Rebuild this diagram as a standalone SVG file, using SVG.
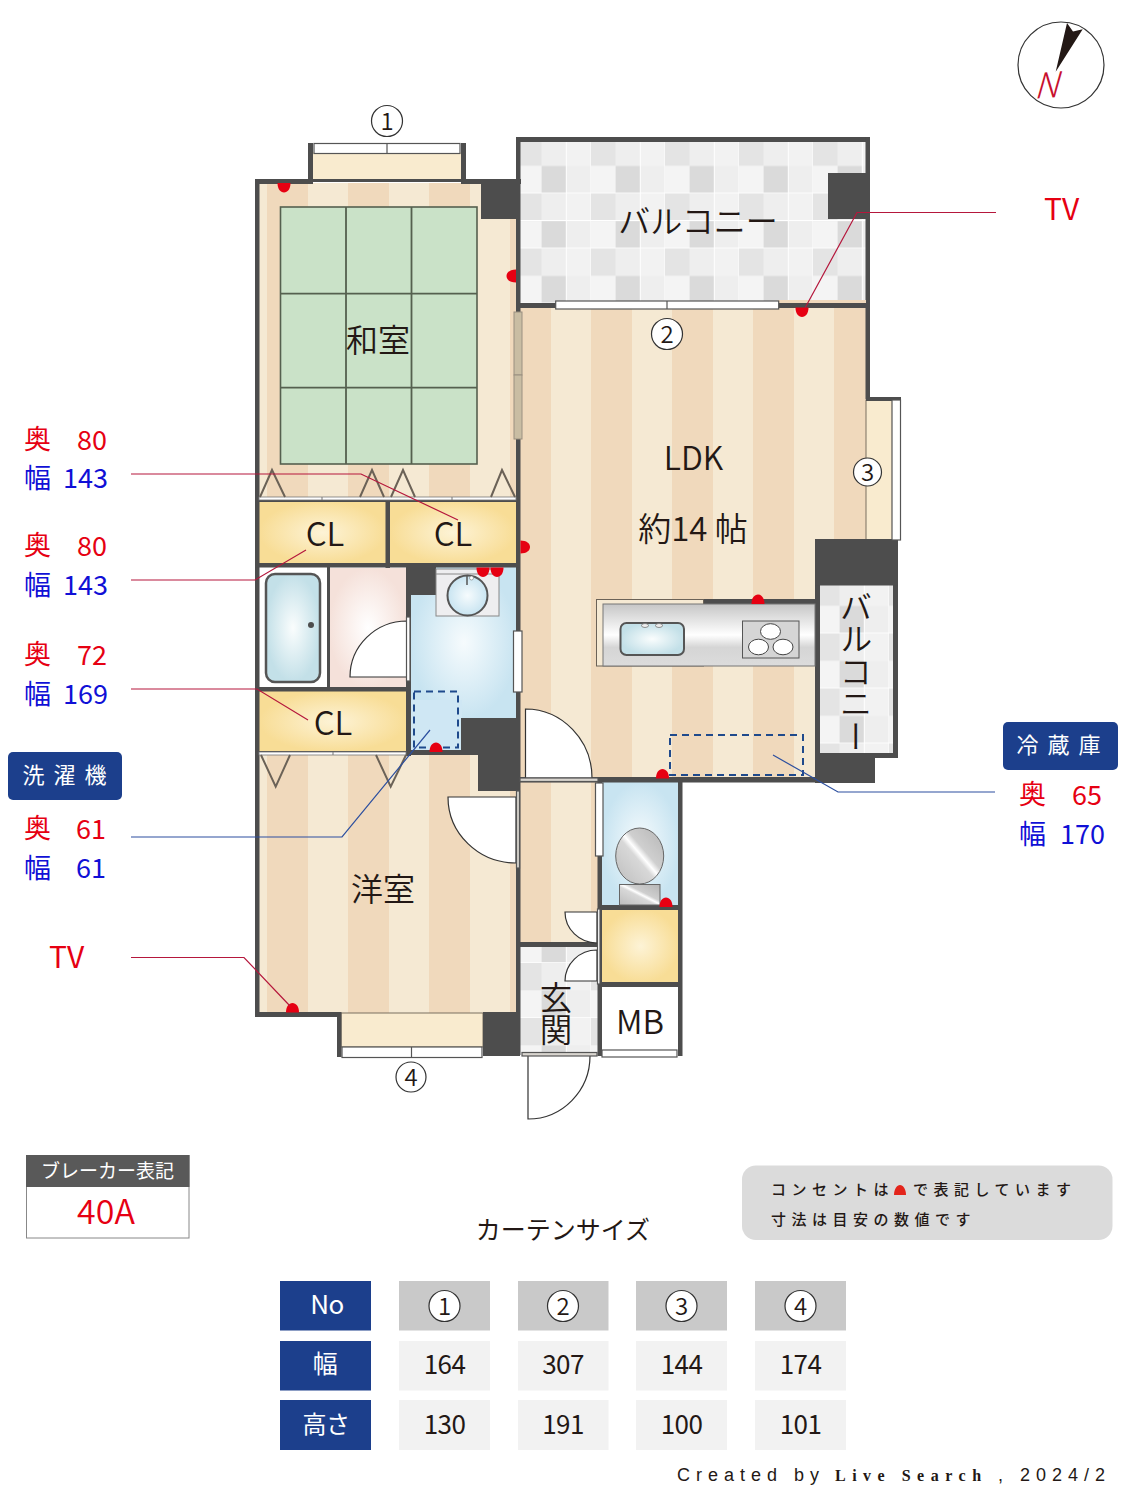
<svg xmlns="http://www.w3.org/2000/svg" xmlns:xlink="http://www.w3.org/1999/xlink" width="1125" height="1500" viewBox="0 0 1125 1500">
<style>
text{font-family:"Noto Sans CJK JP","Noto Sans",sans-serif;fill:#231815}
.l{font-weight:350}
.m{text-anchor:middle}
.w{fill:#4d4d4d}
.r{fill:#e60012}
.b{fill:#1010d6}
.lab{font-size:27px;font-weight:400}
.ww{fill:#fff;stroke:#555;stroke-width:1.2}
.th{fill:#d9d5cf;stroke:#555;stroke-width:1.2}
.tri{fill:none;stroke:#6b6257;stroke-width:2}
.door{fill:#fff;stroke:#333;stroke-width:1.2}
.rl{fill:none;stroke:#b5173c;stroke-width:1.2}
.bl{fill:none;stroke:#2c4f9f;stroke-width:1.2}
.dash{fill:none;stroke:#1f4a8c;stroke-width:2;stroke-dasharray:7 5}
.dot{fill:#e60012}
.circ{fill:#fff;stroke:#333;stroke-width:1.2}
.cn{font-size:24px;text-anchor:middle;font-weight:350}
.navy{fill:#1c3f8c}
.cell{fill:#f2f2f2}
.hd{fill:#c9c9c9}
.tt{font-size:26px;text-anchor:middle;font-weight:400;letter-spacing:-.6px}
.wt{fill:#fff}
.tat{fill:#cae2c8;stroke:#55604f;stroke-width:1.6}
.note{font-size:15px;letter-spacing:5.5px;font-weight:500}
.cr{font-family:"Liberation Sans",sans-serif;font-size:18px;letter-spacing:6px}
</style>
<defs>
<pattern id="fl" width="81" height="100" patternUnits="userSpaceOnUse" x="267" y="0">
<rect width="81" height="100" fill="#f5e9d3"/><rect width="41" height="100" fill="#f0d9bc"/>
</pattern>
<pattern id="tile" width="74" height="55" patternUnits="userSpaceOnUse" x="517" y="138.5">
<rect width="74" height="55" fill="#f0f0f0"/>
<rect width="24.7" height="27.5" fill="#e4e4e4"/><rect x="24.7" width="24.6" height="27.5" fill="#eeeeee"/><rect x="49.3" width="24.7" height="27.5" fill="#f2f2f2"/>
<rect y="27.5" width="24.7" height="27.500" fill="#f4f4f4"/><rect x="24.7" y="27.5" width="24.6" height="27.500" fill="#dadada"/><rect x="49.3" y="27.5" width="24.7" height="27.500" fill="#eeeeee"/>
<rect x="48.8" width="1" height="55" fill="#fff"/><rect x="73.5" width="1" height="55" fill="#fff"/>
<rect y="54.2" width="74" height="1" fill="#fff"/>
</pattern>
<pattern id="tile2" href="#tile" xlink:href="#tile" x="815" y="578.5"/>
<pattern id="tile3" href="#tile" xlink:href="#tile" x="517" y="908"/>
<radialGradient id="yel"><stop offset="0" stop-color="#fdf3d6"/><stop offset="1" stop-color="#f8dd96"/></radialGradient>
<radialGradient id="blu"><stop offset="0" stop-color="#f6fbfd"/><stop offset="1" stop-color="#c8e4f1"/></radialGradient>
<radialGradient id="tub"><stop offset="0" stop-color="#fafdfd"/><stop offset="1" stop-color="#c3e0e8"/></radialGradient>
<radialGradient id="pnk"><stop offset="0" stop-color="#fff"/><stop offset="1" stop-color="#f5e1da"/></radialGradient>
<linearGradient id="steel" x1="0" y1="0" x2="0" y2="1"><stop offset="0" stop-color="#c6c6c6"/><stop offset=".5" stop-color="#fff"/><stop offset=".7" stop-color="#d5d5d5"/><stop offset="1" stop-color="#dcdcdc"/></linearGradient>
<linearGradient id="mtl" x1="0" y1="1" x2="1" y2="0"><stop offset="0" stop-color="#bdbdbd"/><stop offset=".45" stop-color="#d8d8d8"/><stop offset=".52" stop-color="#fff"/><stop offset=".6" stop-color="#cfcfcf"/><stop offset="1" stop-color="#b5b5b5"/></linearGradient>
<path id="d" d="M-6.5 0C-6.5-6-3.6-9.5 0-9.5S6.5-6 6.5 0Z"/>
</defs>

<g id="floors">
<rect x="259" y="183" width="258" height="315" fill="url(#fl)"/>
<rect x="259" y="755" width="258" height="258" fill="url(#fl)"/>
<rect x="520" y="307" width="346" height="233" fill="url(#fl)"/>
<rect x="520" y="539" width="296" height="240" fill="url(#fl)"/>
<rect x="520" y="782" width="78" height="161" fill="url(#fl)"/>
<rect x="313" y="152" width="148" height="29" fill="#f9ebcf"/>
<rect x="341" y="1013" width="142" height="34" fill="#f9ebcf" stroke="#7a7060"/>
<rect x="866" y="400" width="27" height="140" fill="#f9ebcf" stroke="#7a7060"/>
<rect x="520" y="141" width="346" height="162" fill="url(#tile)"/>
<rect x="520" y="220" width="346" height="1" fill="#fff"/>
<rect x="819" y="585" width="75" height="169" fill="url(#tile2)"/>
<rect x="520" y="946" width="78" height="107" fill="url(#tile3)"/>
<rect x="259" y="501" width="127" height="63" fill="url(#yel)"/>
<rect x="390" y="501" width="126" height="63" fill="url(#yel)"/>
<rect x="259" y="691" width="148" height="61" fill="url(#yel)"/>
<rect x="602" y="909" width="77" height="74" fill="url(#yel)"/>
<rect x="259" y="566" width="68" height="122" fill="#fff"/>
<rect x="329" y="568" width="78" height="120" fill="url(#pnk)"/>
<rect x="411" y="566" width="106" height="153" fill="url(#blu)"/>
<rect x="411" y="700" width="51" height="51" fill="#cfe7f4"/>
<rect x="602" y="782" width="77" height="124" fill="url(#blu)"/>
<rect x="602" y="986" width="77" height="64" fill="#fff"/>
</g>

<g id="walls" class="w">
<rect x="255" y="179" width="4.5" height="838"/>
<rect x="255" y="179" width="58" height="5"/>
<rect x="461" y="179" width="60" height="5"/>
<rect x="308" y="143" width="5" height="41"/>
<rect x="461" y="143" width="5" height="41"/>
<rect x="313" y="179" width="148" height="3"/>
<rect x="481" y="179" width="39" height="40"/>
<rect x="516" y="137" width="4.5" height="918"/>
<rect x="516" y="137" width="354" height="5"/>
<rect x="865.5" y="137" width="4.5" height="262"/>
<rect x="828" y="173" width="42" height="46"/>
<rect x="520" y="303" width="350" height="5"/>
<rect x="778" y="300" width="88" height="3" fill="#f0d9bc"/>
<rect x="255" y="498" width="265" height="4"/>
<rect x="385.5" y="498" width="4.5" height="70"/>
<rect x="255" y="563" width="265" height="4.5"/>
<rect x="327" y="566" width="3" height="122"/>
<rect x="406" y="567" width="5" height="189"/>
<rect x="406" y="567" width="30" height="28"/>
<rect x="255" y="687" width="152" height="4.5"/>
<rect x="255" y="751" width="156" height="4"/>
<rect x="406" y="750" width="114" height="5"/>
<rect x="461" y="718" width="59" height="37"/>
<rect x="478" y="718" width="42" height="73"/>
<rect x="255" y="1012" width="86" height="5"/>
<rect x="337" y="1012" width="4.5" height="45"/>
<rect x="483" y="1012" width="37" height="44"/>
<rect x="866" y="397" width="35" height="4"/>
<rect x="815" y="539" width="83" height="41"/>
<rect x="815" y="580" width="5" height="203"/>
<rect x="893" y="580" width="5" height="178"/>
<rect x="815" y="580" width="83" height="5.5"/>
<rect x="815" y="753" width="60" height="30"/>
<rect x="875" y="753" width="23" height="5"/>
<rect x="703" y="599" width="112" height="5"/>
<rect x="520" y="777" width="162" height="5.5"/>
<rect x="682" y="777" width="133" height="5.5"/>
<rect x="678" y="777" width="4.5" height="279"/>
<rect x="597.5" y="782" width="4.5" height="274"/>
<rect x="520" y="942" width="78" height="5"/>
<rect x="598" y="905" width="84" height="5"/>
<rect x="598" y="982" width="84" height="5"/>
</g>

<g id="windows">
<rect class="ww" x="314" y="143.5" width="146" height="10"/><path d="M387 143V154" stroke="#555" stroke-width="1.2"/>
<rect class="ww" x="555.7" y="301" width="223" height="8"/><path d="M667 301V309" stroke="#555" stroke-width="1.2"/>
<rect class="ww" x="892" y="400" width="8.5" height="140"/>
<rect class="ww" x="342" y="1047" width="140" height="10.5"/><path d="M411.5 1047V1058" stroke="#555" stroke-width="1.2"/>
<rect class="ww" x="513.5" y="631" width="8.5" height="61"/>
<rect class="ww" x="595.5" y="783" width="7.5" height="73"/>
<rect class="ww" x="602" y="1050" width="75" height="7"/>
<rect x="514" y="312" width="8" height="63" fill="#c9bda3" stroke="#9a9080"/>
<rect x="514" y="375" width="8" height="64" fill="#c9bda3" stroke="#9a9080"/>
</g>

<g id="closets">
<rect x="259" y="497" width="257" height="3" fill="#fff" stroke="#777" stroke-width=".8"/>
<path d="M322 497V500M452 497V500" stroke="#777"/>
<path class="tri" d="M260 497L272 470L285 497M360 497L372 470L384 497M391 497L403 470L415 497M491 497L502 470L515 497"/>
<rect x="259" y="752" width="147" height="3" fill="#fff" stroke="#777" stroke-width=".8"/>
<path d="M333 752V755" stroke="#777"/>
<path class="tri" d="M261 755L275.7 786.7L290 755M376 755L390.7 786.7L406 755"/>
</g>

<g id="tatami">
<rect class="tat" x="280.5" y="207" width="196.5" height="257"/>
<path d="M346 207V464M411.5 207V464M280.5 293.7H477M280.5 387.7H477" fill="none" stroke="#55604f" stroke-width="1.8"/>
</g>

<g id="doors">
<path class="door" d="M350 677A57 56 0 0 1 407 621V677Z"/>
<rect class="ww" x="406.5" y="617" width="3.5" height="64"/>
<path class="door" d="M525.5 709A67 69 0 0 1 592 778H525.5Z" stroke-width="1"/>
<rect class="th" x="520" y="778" width="78" height="3.5"/>
<path class="door" d="M448 797H516V863A68 66 0 0 1 448 797Z"/>
<rect class="th" x="516.5" y="791" width="3" height="77"/>
<path class="door" d="M565 912H597V943A32 31 0 0 1 565 912Z"/>
<path class="door" d="M565 981A32 31 0 0 1 597 950V981Z"/>
<rect class="ww" x="597.5" y="909" width="2.5" height="75"/>
<path class="door" d="M528 1056V1119A62 63 0 0 0 590 1056"/>
<rect class="th" x="522" y="1052.5" width="75" height="3.5"/>
</g>

<g id="fixtures">
<rect x="266" y="574" width="54" height="108" rx="9" fill="url(#tub)" stroke="#555" stroke-width="2.5"/>
<circle cx="311" cy="625" r="3" fill="#4d4d4d"/>
<rect x="436" y="569" width="63" height="47" fill="#eeeef0" stroke="#888"/>
<path d="M436 574H499" stroke="#888"/>
<circle cx="467.5" cy="595.5" r="20" fill="url(#blu)" stroke="#555" stroke-width="2"/>
<path d="M467 576V585" stroke="#555" stroke-width="1.5"/>
<circle cx="471.5" cy="578" r="2" fill="#fff" stroke="#777" stroke-width=".6"/>
<rect x="596.5" y="599.5" width="107" height="66.5" fill="#f5e9d3" stroke="#6b6257" stroke-width="1"/>
<rect x="603" y="604" width="212" height="62" fill="url(#steel)" stroke="#777"/>
<rect x="620.5" y="623" width="63.5" height="32" rx="6" fill="url(#tub)" stroke="#555" stroke-width="2"/>
<ellipse cx="645" cy="625.5" rx="3.5" ry="2" fill="#eee" stroke="#666" stroke-width=".7"/>
<ellipse cx="659" cy="625.5" rx="3.5" ry="2" fill="#eee" stroke="#666" stroke-width=".7"/>
<rect x="742.5" y="621" width="56.5" height="37" fill="#d5d5d5" stroke="#555"/>
<ellipse cx="770.5" cy="631.5" rx="10" ry="7.8" fill="#fff" stroke="#444"/>
<ellipse cx="758.5" cy="647" rx="10" ry="7.8" fill="#fff" stroke="#444"/>
<ellipse cx="783" cy="647" rx="10" ry="7.8" fill="#fff" stroke="#444"/>
<ellipse cx="639.7" cy="856" rx="24" ry="28" fill="url(#mtl)" stroke="#666"/>
<rect x="619.5" y="884.5" width="40.5" height="20.5" fill="url(#mtl)" stroke="#666"/>
<rect class="dash" x="414" y="691.5" width="44" height="56"/>
<rect class="dash" x="670" y="735" width="133" height="40"/>
</g>

<g id="outlets" class="dot">
<use href="#d" transform="translate(284 183) rotate(180)"/>
<use href="#d" transform="translate(516 276) rotate(-90)"/>
<use href="#d" transform="translate(520.5 547) rotate(90)"/>
<use href="#d" transform="translate(483 567.5) rotate(180)"/>
<use href="#d" transform="translate(497 567.5) rotate(180)"/>
<use href="#d" transform="translate(436 752)"/>
<use href="#d" transform="translate(802 307.5) rotate(180)"/>
<use href="#d" transform="translate(758 604)"/>
<use href="#d" transform="translate(662.5 778.5)"/>
<use href="#d" transform="translate(666 907)"/>
<use href="#d" transform="translate(292.5 1012.5)"/>
</g>

<g id="connectors">
<path class="rl" d="M131 474H361L458 520"/>
<path class="rl" d="M131 580H255L306 550"/>
<path class="rl" d="M131 689H257L308 720"/>
<path class="rl" d="M131 957.5H244L290 1006"/>
<path class="rl" d="M996 212.5H857L805 308"/>
<path class="bl" d="M131 837H342L430 730"/>
<path class="bl" d="M995 792H838L773 755"/>
</g>

<g id="room-labels">
<text class="m l" x="378" y="352" font-size="32">和室</text>
<text class="m l" x="383" y="901" font-size="32">洋室</text>
<text class="m l" x="325" y="546" font-size="33">CL</text>
<text class="m l" x="453" y="546" font-size="33">CL</text>
<text class="m l" x="333" y="735" font-size="33">CL</text>
<text class="m l" x="693.5" y="470" font-size="32">LDK</text>
<text class="m l" x="693" y="541" font-size="33">約14 帖</text>
<text class="m l" x="698" y="233" font-size="32">バルコニー</text>
<text class="l" x="856" y="590" font-size="32.500" style="writing-mode:vertical-rl">バルコニー</text>
<text class="l" x="556" y="981" font-size="32.500" style="writing-mode:vertical-rl">玄関</text>
<text class="m l" x="640" y="1034" font-size="33">MB</text>
</g>

<g id="marks">
<circle class="circ" cx="387" cy="121" r="15.5"/><text class="cn" x="387" y="130">1</text>
<circle class="circ" cx="667" cy="334" r="15.5"/><text class="cn" x="667" y="343">2</text>
<circle class="circ" cx="867.5" cy="472" r="14"/><text class="cn" x="867.5" y="481">3</text>
<circle class="circ" cx="411" cy="1077" r="15"/><text class="cn" x="411" y="1086">4</text>
</g>

<g id="left-labels">
<text class="lab r" x="24" y="449">奥</text><text class="lab r" x="77" y="450">80</text>
<text class="lab b" x="24" y="488">幅</text><text class="lab b" x="63" y="488">143</text>
<text class="lab r" x="24" y="555">奥</text><text class="lab r" x="77" y="556">80</text>
<text class="lab b" x="24" y="595">幅</text><text class="lab b" x="63" y="595">143</text>
<text class="lab r" x="24" y="664">奥</text><text class="lab r" x="77" y="665">72</text>
<text class="lab b" x="24" y="704">幅</text><text class="lab b" x="63" y="704">169</text>
<text class="lab r" x="24" y="838">奥</text><text class="lab r" x="76" y="839">61</text>
<text class="lab b" x="24" y="878">幅</text><text class="lab b" x="76" y="878">61</text>
<text class="r" x="49" y="968" font-size="30">TV</text>
</g>
<g id="right-labels">
<text class="r" x="1044" y="220" font-size="30">TV</text>
<text class="lab r" x="1019" y="804">奥</text><text class="lab r" x="1072" y="805">65</text>
<text class="lab b" x="1019" y="844">幅</text><text class="lab b" x="1060" y="844">170</text>
</g>
<g id="washer-badge">
<rect class="navy" x="8" y="752" width="114" height="48" rx="5"/>
<text class="wt m" x="69" y="783" font-size="22" letter-spacing="9">洗濯機</text>
</g>
<g id="fridge-badge">
<rect class="navy" x="1003" y="722" width="115" height="48" rx="5"/>
<text class="wt m" x="1063" y="753" font-size="22" letter-spacing="9">冷蔵庫</text>
</g>

<g id="compass">
<circle cx="1061" cy="65" r="43" fill="#fff" stroke="#333" stroke-width="1.2"/>
<polygon points="1055.7,71.7 1067,23 1073,31.5 1082.7,29.3" fill="#231815"/>
<text font-size="35" text-anchor="middle" style="fill:#c8102e;font-weight:300" transform="translate(1046 98) rotate(-4) skewX(-20)">N</text>
</g>

<g id="breaker">
<rect x="26.5" y="1155.5" width="162.5" height="82.500" fill="#fff" stroke="#888"/>
<rect x="26" y="1155" width="163.5" height="32" fill="#595959"/>
<text class="wt m" x="107.5" y="1178" font-size="19">ブレーカー表記</text>
<text class="r m l" x="106" y="1224" font-size="34">40A</text>
</g>

<g id="note">
<rect x="742" y="1165.5" width="370.500" height="74.500" rx="14" fill="#dbdbdb"/>
<text x="771" y="1195" class="note">コンセントは</text>
<path d="M894 1195C894 1189 897 1185 900 1185S906 1189 906 1195Z" fill="#e3241b"/>
<text x="913" y="1195" class="note">で表記しています</text>
<text x="771" y="1225" class="note">寸法は目安の数値です</text>
</g>

<text id="curtain-title" class="m" x="563" y="1239" font-size="25">カーテンサイズ</text>

<g id="curtain-table">
<rect class="navy" x="280" y="1281" width="91" height="49.5"/>
<rect class="navy" x="280" y="1341" width="91" height="49.5"/>
<rect class="navy" x="280" y="1400" width="91" height="50"/>
<rect class="hd" x="399" y="1281" width="91" height="49.5"/><rect class="hd" x="518" y="1281" width="90.5" height="49.5"/><rect class="hd" x="636" y="1281" width="91" height="49.5"/><rect class="hd" x="755" y="1281" width="91" height="49.5"/>
<rect class="cell" x="399" y="1341" width="91" height="49.5"/><rect class="cell" x="518" y="1341" width="90.5" height="49.5"/><rect class="cell" x="636" y="1341" width="91" height="49.5"/><rect class="cell" x="755" y="1341" width="91" height="49.5"/>
<rect class="cell" x="399" y="1400" width="91" height="50"/><rect class="cell" x="518" y="1400" width="90.5" height="50"/><rect class="cell" x="636" y="1400" width="91" height="50"/><rect class="cell" x="755" y="1400" width="91" height="50"/>
<text class="tt wt" x="327" y="1314">No</text><text class="tt wt" x="325" y="1373" style="font-size:25px">幅</text><text class="tt wt" x="326" y="1433" style="font-size:24px">高さ</text>
<circle class="circ" cx="444.500" cy="1306" r="15.5"/><text class="cn" x="444.500" y="1315">1</text>
<circle class="circ" cx="563" cy="1306" r="15.5"/><text class="cn" x="563" y="1315">2</text>
<circle class="circ" cx="681.500" cy="1306" r="15.5"/><text class="cn" x="681.500" y="1315">3</text>
<circle class="circ" cx="800.500" cy="1306" r="15.5"/><text class="cn" x="800.500" y="1315">4</text>
<text class="tt" x="444.500" y="1374">164</text><text class="tt" x="563" y="1374">307</text><text class="tt" x="681.500" y="1374">144</text><text class="tt" x="800.500" y="1374">174</text>
<text class="tt" x="444.500" y="1434">130</text><text class="tt" x="563" y="1434">191</text><text class="tt" x="681.500" y="1434">100</text><text class="tt" x="800.500" y="1434">101</text>
</g>

<g id="credit">
<text class="cr" x="677" y="1481">Created by</text>
<text x="835" y="1481" font-size="16" letter-spacing="6.5" font-weight="700" style="font-family:'Liberation Serif',serif">Live Search</text>
<text class="cr" x="998" y="1481">, 2024/2</text>
</g>
</svg>
